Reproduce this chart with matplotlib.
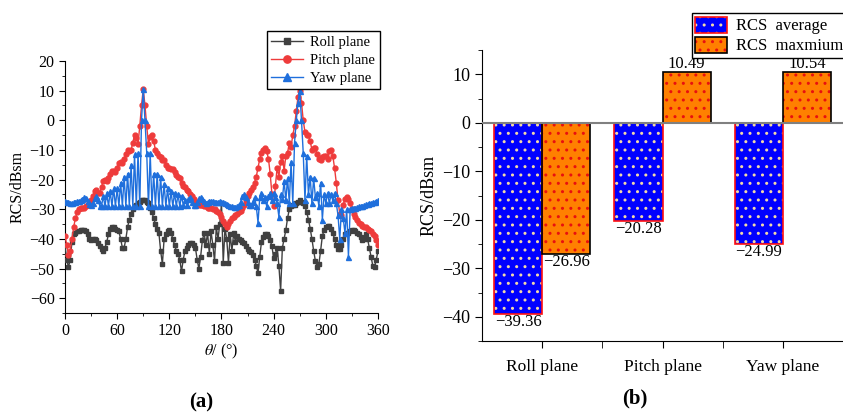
import numpy as np
import matplotlib
matplotlib.use("Agg")
import matplotlib.pyplot as plt
from matplotlib.patches import Patch
from matplotlib.legend_handler import HandlerTuple
from matplotlib.ticker import MultipleLocator

plt.rcParams['font.family'] = ['Liberation Serif', 'DejaVu Serif']
plt.rcParams['mathtext.fontset'] = 'stix'
plt.rcParams['axes.unicode_minus'] = True
plt.rcParams['hatch.linewidth'] = 1.0

# ---------------- data (a): RCS vs angle, 2 deg steps ----------------
theta = list(range(0, 361, 2))

roll = [-42, -47, -49.5, -47, -41, -38.5, -38, -37.5, -37.5, -37,
        -37, -37, -37.5, -38.5, -40, -40.5, -40, -40, -40.5, -41.5,
        -42.5, -43.5, -44, -43, -41, -38.5, -36.5, -36, -36, -36.5,
        -37, -37.5, -40, -43, -43, -40, -36, -33.5, -31.5, -30,
        -29, -28.5, -28, -27.5, -27, -27, -27, -27.5, -28, -29.5,
        -31, -33, -35, -36.5, -38, -44, -48.5, -40, -38.5, -37.5,
        -37, -38, -40, -42, -44, -45, -47, -51, -47, -44,
        -43, -42, -41.5, -41.5, -42, -43, -47, -50, -46, -40.5,
        -38, -42, -38, -45, -37.5, -42, -47.5, -36, -40, -35,
        -28, -48, -36.5, -40, -48, -38.5, -44, -38, -41, -39,
        -40, -40.5, -41, -41.5, -42.5, -43.5, -44, -44.5, -45.5, -47,
        -49, -51.5, -46, -41, -39.5, -38.5, -38.5, -39, -40.5, -42.5,
        -46.5, -45, -43, -49, -57.5, -43, -40, -37, -33, -30,
        -29, -28.5, -28.5, -28, -27.5, -27, -27.5, -28, -29, -31,
        -33.5, -36.5, -40, -44, -47.5, -49.5, -48.5, -44, -39, -37,
        -36, -35.5, -35.5, -36.5, -38, -40, -42, -43.5, -43.5, -42,
        -40, -38.5, -38, -38, -37.5, -37, -37, -37.5, -38, -38.5,
        -39.5, -40.5, -40, -38.5, -40, -43, -46, -49, -49.5, -47,
        -44]

pitch = [-39, -42, -45.5, -44, -40, -36, -33, -31, -30, -29.5,
         -29.5, -29.5, -29, -28.5, -28, -27, -25.5, -24, -23.5, -24.5,
         -24.5, -22.5, -20.5, -20, -20.5, -19.5, -18, -17, -17, -17.5,
         -16, -14.5, -14, -14.5, -13, -11.5, -10, -10.5, -10, -7.5,
         -5, -6, -8, -2, 5, 10.5, 5, -2, -8, -5.5,
         -5, -7, -10, -11, -12, -12.5, -13.5, -13.5, -15, -16,
         -16, -16.5, -16.5, -17.5, -18.5, -19, -19.5, -21, -22, -22.5,
         -23.5, -24, -25, -25.5, -26.5, -27.5, -28, -28.5, -28.5, -28.5,
         -29, -29, -29.5, -29.5, -29.5, -30, -30, -30.5, -31, -31.5,
         -32.5, -34, -35, -36, -35, -34, -33, -32.5, -32, -31.5,
         -31, -30.5, -29.5, -28.5, -27, -25.5, -24.5, -23.5, -22.5, -21,
         -19, -16, -13, -11, -10, -9.5, -10.5, -13, -18, -25,
         -29, -22, -16, -19, -14, -12, -17, -12, -11, -7.5,
         -9, -5, -2, 3, 8, 10, 6, 0, -4, -5,
         -5, -7, -10, -9.5, -9.5, -11.5, -13, -13.5, -12.5, -12,
         -12, -13, -10.5, -10, -12, -16, -21, -27, -31.5, -32,
         -28.5, -26.5, -26, -26.5, -28, -30, -31.5, -32.5, -33.5, -34.5,
         -35, -35.5, -36, -36, -36.5, -37, -37.5, -38.5, -39, -40.5,
         -42]

yaw = [-27.3, -27.5, -27.6, -27.8, -27.8, -27.7, -27.5, -27.3, -27.2, -27,
       -26.5, -26, -26.3, -27.2, -28.2, -28.5, -27.8, -26.3, -25.5, -27,
       -28.8, -29, -25.5, -29, -24.5, -29, -24, -29, -23, -29,
       -23, -29, -21, -29, -19, -29, -18, -29, -15, -29,
       -11.5, -29, -11, -29, 0, 10.5, 0, -11, -29, -11,
       -29, -18, -29, -18, -29, -19, -29, -21.5, -29, -23,
       -29, -24, -29, -24.5, -29, -25, -29, -25.5, -28.5, -27,
       -28.5, -26.5, -26, -27.5, -28.5, -28.5, -27.5, -26.3, -26, -26.5,
       -27.3, -27.8, -27.5, -27.2, -27.2, -27.3, -27.5, -27.5, -27.5, -27.3,
       -27.5, -27.7, -28, -28.3, -28.6, -28.8, -29, -29.2, -29.2, -29,
       -28.5, -27.5, -25.5, -25, -26, -27.5, -28.5, -28.5, -27.5, -26,
       -29, -34.5, -26, -24.5, -27, -26, -29, -25.5, -24.5, -27,
       -24.5, -26, -28, -32.5, -25, -26.5, -20.5, -27, -19.5, -28,
       -14, -28, -7.5, 0, 6, 10, 0, -11, -27, -12,
       -25, -19, -28, -19.5, -26, -24.5, -29, -21, -33.5, -25,
       -28, -24.5, -28, -25, -27, -24.5, -28, -32, -40, -30,
       -33, -38, -30, -46, -30, -29.5, -29.5, -29.5, -29.3, -29,
       -29, -28.8, -28.6, -28.4, -28.2, -28, -27.8, -27.6, -27.5, -27.3,
       -27]

# ---------------- data (b): average / maximum RCS ----------------
planes = ['Roll plane', 'Pitch plane', 'Yaw plane']
rcs_avg = [-39.36, -20.28, -24.99]
rcs_max = [-26.96, 10.49, 10.54]

fig = plt.figure(figsize=(8.43, 4.15), dpi=100)

# ==================== (a) ====================
ax1 = fig.add_axes([0.0771, 0.2458, 0.3713, 0.6072])
ax1.plot(theta, roll, color='#404040', marker='s', ms=3.2, lw=1.0,
         label='Roll plane', zorder=3)
ax1.plot(theta, pitch, color='#ee3b3b', marker='o', ms=3.5, lw=1.0,
         label='Pitch plane', zorder=4)
ax1.plot(theta, yaw, color='#1f6fdc', marker='^', ms=3.6, lw=1.0,
         label='Yaw plane', zorder=5)

ax1.set_xlim(0, 360)
ax1.set_ylim(-65, 20)
ax1.xaxis.set_major_locator(MultipleLocator(60))
ax1.xaxis.set_minor_locator(MultipleLocator(30))
ax1.yaxis.set_minor_locator(MultipleLocator(5))
ax1.set_yticks(range(-60, 21, 10))
ax1.tick_params(which='both', direction='out', labelsize=11.5)
ax1.tick_params(which='major', length=4)
ax1.tick_params(which='minor', length=2.5)
for s in ['top', 'right']:
    ax1.spines[s].set_visible(False)
ax1.set_xlabel(r'$\theta$/ (°)', fontsize=11.5, labelpad=2)
ax1.set_ylabel('RCS/dBsm', fontsize=11.5, labelpad=3)
leg1 = ax1.legend(loc='upper right', bbox_to_anchor=(1.005, 1.118), fontsize=10.5,
                  frameon=True, fancybox=False, edgecolor='black', framealpha=1,
                  borderpad=0.3, labelspacing=0.33, handlelength=2.2,
                  handletextpad=0.5, borderaxespad=0, markerscale=1.5)
leg1.get_frame().set_linewidth(1.0)
fig.text(0.2385, 0.03, '(a)', ha='center', va='center', fontsize=15, fontweight='bold')

# ==================== (b) ====================
ax2 = fig.add_axes([0.5718, 0.178, 0.4282, 0.7012])
x = np.arange(1, len(planes) + 1)
w = 0.4
# face + dots, then the outline on top
ax2.bar(x - w / 2, rcs_avg, w, color='#0000ff', edgecolor='#f2d8a8', hatch='..', lw=0, zorder=2)
bavg = ax2.bar(x - w / 2, rcs_avg, w, color='none', edgecolor='#ff1010', lw=1.2, zorder=3)
ax2.bar(x + w / 2, rcs_max, w, color='#ff8000', edgecolor='#e81010', hatch='..', lw=0, zorder=2)
bmax = ax2.bar(x + w / 2, rcs_max, w, color='none', edgecolor='black', lw=1.2, zorder=3)

fmt = lambda v: f'{v:.2f}'.replace('-', '\u2212')
ax2.bar_label(bavg, labels=[fmt(v) for v in rcs_avg], padding=0, fontsize=12)
ax2.bar_label(bmax, labels=[fmt(v) for v in rcs_max], padding=0, fontsize=12)

ax2.axhline(0, color='#808080', lw=1.5, zorder=4)
ax2.set_xlim(0.5, 3.5)
ax2.set_ylim(-45, 15)
ax2.set_xticks(x)
ax2.set_xticklabels(planes, fontsize=12.5)
ax2.set_xticks([1.5, 2.5], minor=True)
ax2.yaxis.set_minor_locator(MultipleLocator(5))
ax2.set_yticks(range(-40, 11, 10))
ax2.tick_params(axis='y', which='both', direction='out', labelsize=13)
ax2.tick_params(axis='x', which='both', direction='out')
ax2.tick_params(axis='x', which='major', length=5, pad=8)
ax2.tick_params(axis='x', which='minor', length=5)
ax2.tick_params(axis='y', which='major', length=5)
ax2.tick_params(axis='y', which='minor', length=3)
for s in ['top', 'right']:
    ax2.spines[s].set_visible(False)
ax2.set_ylabel('RCS/dBsm', fontsize=13, labelpad=3)

h_avg = (Patch(facecolor='#0000ff', edgecolor='#f2d8a8', hatch='..', lw=0),
         Patch(facecolor='none', edgecolor='#ff1010', lw=1.2))
h_max = (Patch(facecolor='#ff8000', edgecolor='#e81010', hatch='..', lw=0),
         Patch(facecolor='none', edgecolor='black', lw=1.2))
leg2 = ax2.legend([h_avg, h_max], ['RCS  average', 'RCS  maxmium'],
                  handler_map={tuple: HandlerTuple(ndivide=1)},
                  loc='upper left', bbox_to_anchor=(0.582, 1.127), fontsize=12,
                  frameon=True, fancybox=False, edgecolor='black', framealpha=1,
                  borderpad=0.2, labelspacing=0.15, handlelength=1.9, handleheight=1.1,
                  handletextpad=0.55, borderaxespad=0)
leg2.get_frame().set_linewidth(1.0)
fig.text(0.753, 0.04, '(b)', ha='center', va='center', fontsize=15, fontweight='bold')

fig.savefig('out.png', dpi=100)
